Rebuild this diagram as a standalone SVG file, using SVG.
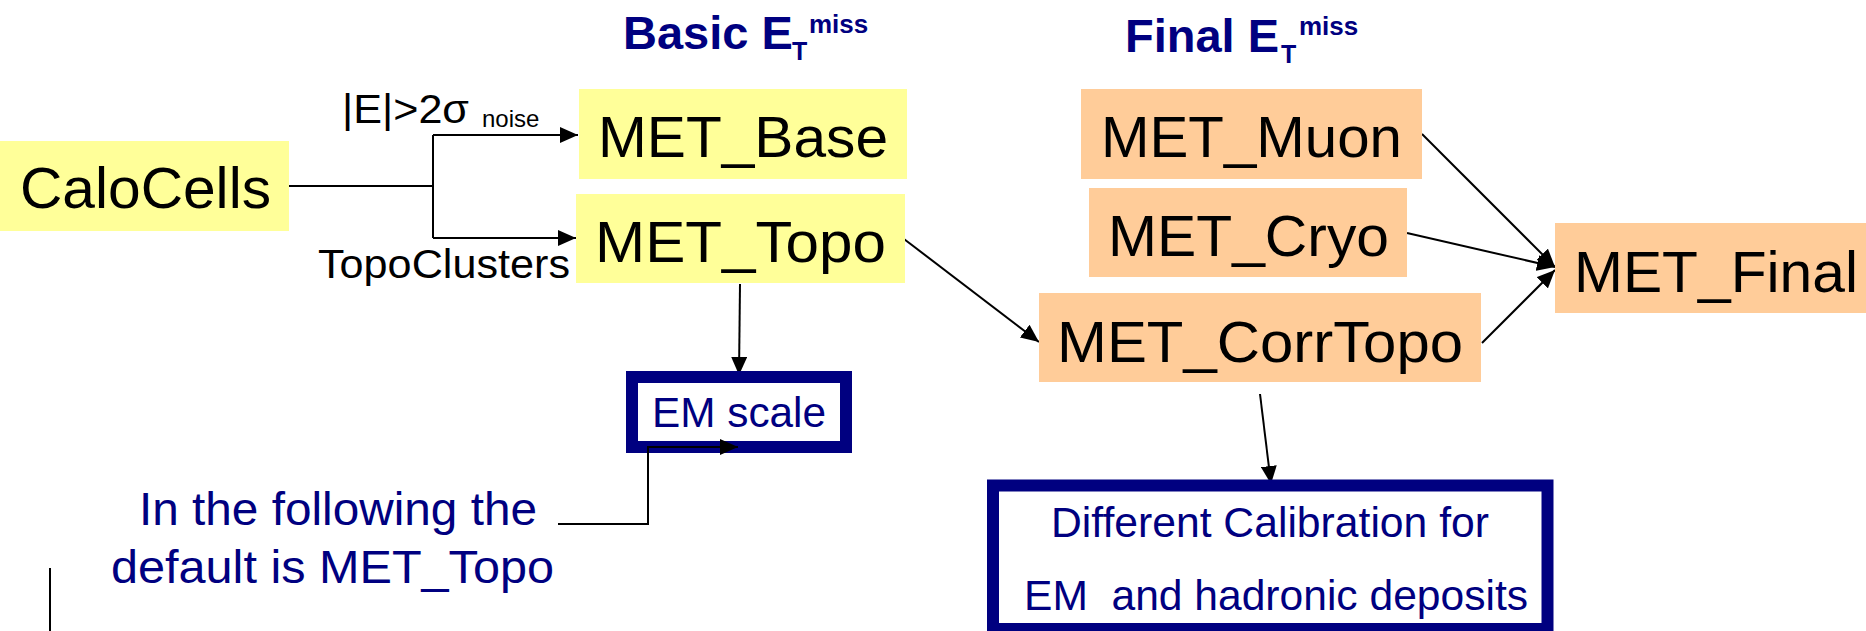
<svg xmlns="http://www.w3.org/2000/svg" width="1866" height="631" viewBox="0 0 1866 631">
<style>
text{font-family:"Liberation Sans",Arial,sans-serif}
.y{fill:#FFFF99}
.o{fill:#FFCC99}
.big{font-size:58px;fill:#000}
.lbl{font-size:41px;fill:#000}
.nv{fill:#000080}
.ttl{font-weight:bold;fill:#000080}
.frame{fill:#fff;stroke:#000080;stroke-width:12}
.c{fill:none;stroke:#000;stroke-width:2}
</style>
<defs>
<marker id="ah" markerUnits="userSpaceOnUse" markerWidth="18" markerHeight="16" refX="18" refY="8" orient="auto">
<path d="M0,0 L18,8 L0,16 z" fill="#000"/>
</marker>
</defs>
<g id="title-basic">
<text class="ttl"><tspan x="623" y="49" font-size="47">Basic E</tspan><tspan x="792" y="60" font-size="25">T</tspan><tspan x="809" y="33" font-size="26">miss</tspan></text>
</g>
<g id="title-final">
<text class="ttl"><tspan x="1125" y="52" font-size="47">Final E</tspan><tspan x="1281" y="63" font-size="25">T</tspan><tspan x="1299" y="35" font-size="26">miss</tspan></text>
</g>
<g id="connectors">
<polyline class="c" points="289,186 433,186"/>
<polyline class="c" points="433,135 433,238"/>
<polyline class="c" points="433,135 578,135" marker-end="url(#ah)"/>
<polyline class="c" points="433,238 576,238" marker-end="url(#ah)"/>
<line class="c" x1="740" y1="284" x2="739" y2="375" marker-end="url(#ah)"/>
<line class="c" x1="904" y1="239" x2="1039" y2="342" marker-end="url(#ah)"/>
<line class="c" x1="1422" y1="134" x2="1555" y2="267" marker-end="url(#ah)"/>
<line class="c" x1="1407" y1="233" x2="1555" y2="267" marker-end="url(#ah)"/>
<line class="c" x1="1482" y1="343" x2="1555" y2="270" marker-end="url(#ah)"/>
<line class="c" x1="1260" y1="394" x2="1271" y2="484" marker-end="url(#ah)"/>
<line class="c" x1="50" y1="568" x2="50" y2="631"/>
</g>
<g id="labels">
<text class="lbl" x="342" y="123" textLength="127" lengthAdjust="spacingAndGlyphs">|E|&gt;2σ</text>
<text x="482" y="127" font-size="24" fill="#000">noise</text>
<text class="lbl" x="318" y="278" font-size="41" textLength="252" lengthAdjust="spacingAndGlyphs">TopoClusters</text>
</g>
<g id="CaloCells">
<rect class="y" x="0" y="141" width="289" height="90"/>
<text class="big" x="20" y="208" textLength="251" lengthAdjust="spacingAndGlyphs">CaloCells</text>
</g>
<g id="MET_Base">
<rect class="y" x="579" y="89" width="328" height="90"/>
<text class="big" x="598" y="157" textLength="290" lengthAdjust="spacingAndGlyphs">MET_Base</text>
</g>
<g id="MET_Topo">
<rect class="y" x="576" y="194" width="329" height="89"/>
<text class="big" x="595" y="262" textLength="291" lengthAdjust="spacingAndGlyphs">MET_Topo</text>
</g>
<g id="MET_Muon">
<rect class="o" x="1081" y="89" width="341" height="90"/>
<text class="big" x="1101" y="157" textLength="301" lengthAdjust="spacingAndGlyphs">MET_Muon</text>
</g>
<g id="MET_Cryo">
<rect class="o" x="1089" y="188" width="318" height="89"/>
<text class="big" x="1108" y="256" textLength="281" lengthAdjust="spacingAndGlyphs">MET_Cryo</text>
</g>
<g id="MET_CorrTopo">
<rect class="o" x="1039" y="293" width="442" height="89"/>
<text class="big" x="1057" y="362" textLength="406" lengthAdjust="spacingAndGlyphs">MET_CorrTopo</text>
</g>
<g id="MET_Final">
<rect class="o" x="1555" y="223" width="320" height="90"/>
<text class="big" x="1574" y="292" textLength="284" lengthAdjust="spacingAndGlyphs">MET_Final</text>
</g>
<g id="EM_scale">
<rect class="frame" x="632" y="377" width="214" height="70"/>
<text class="nv" x="652" y="427" font-size="42" textLength="174" lengthAdjust="spacingAndGlyphs">EM scale</text>
</g>
<g id="note">
<text class="nv" x="139" y="525" font-size="46" textLength="398" lengthAdjust="spacingAndGlyphs">In the following the</text>
<text class="nv" x="111" y="583" font-size="46" textLength="443" lengthAdjust="spacingAndGlyphs">default is MET_Topo</text>
<polyline class="c" points="558,524 648,524 648,447 738,447" marker-end="url(#ah)"/>
</g>
<g id="calibration">
<rect class="frame" x="993" y="485.5" width="554.5" height="143.5"/>
<text class="nv" x="1051" y="537" font-size="42" textLength="438" lengthAdjust="spacingAndGlyphs">Different Calibration for</text>
<text class="nv" x="1024" y="610" font-size="42" style="white-space:pre" xml:space="preserve" textLength="504" lengthAdjust="spacingAndGlyphs">EM  and hadronic deposits</text>
</g>
</svg>
